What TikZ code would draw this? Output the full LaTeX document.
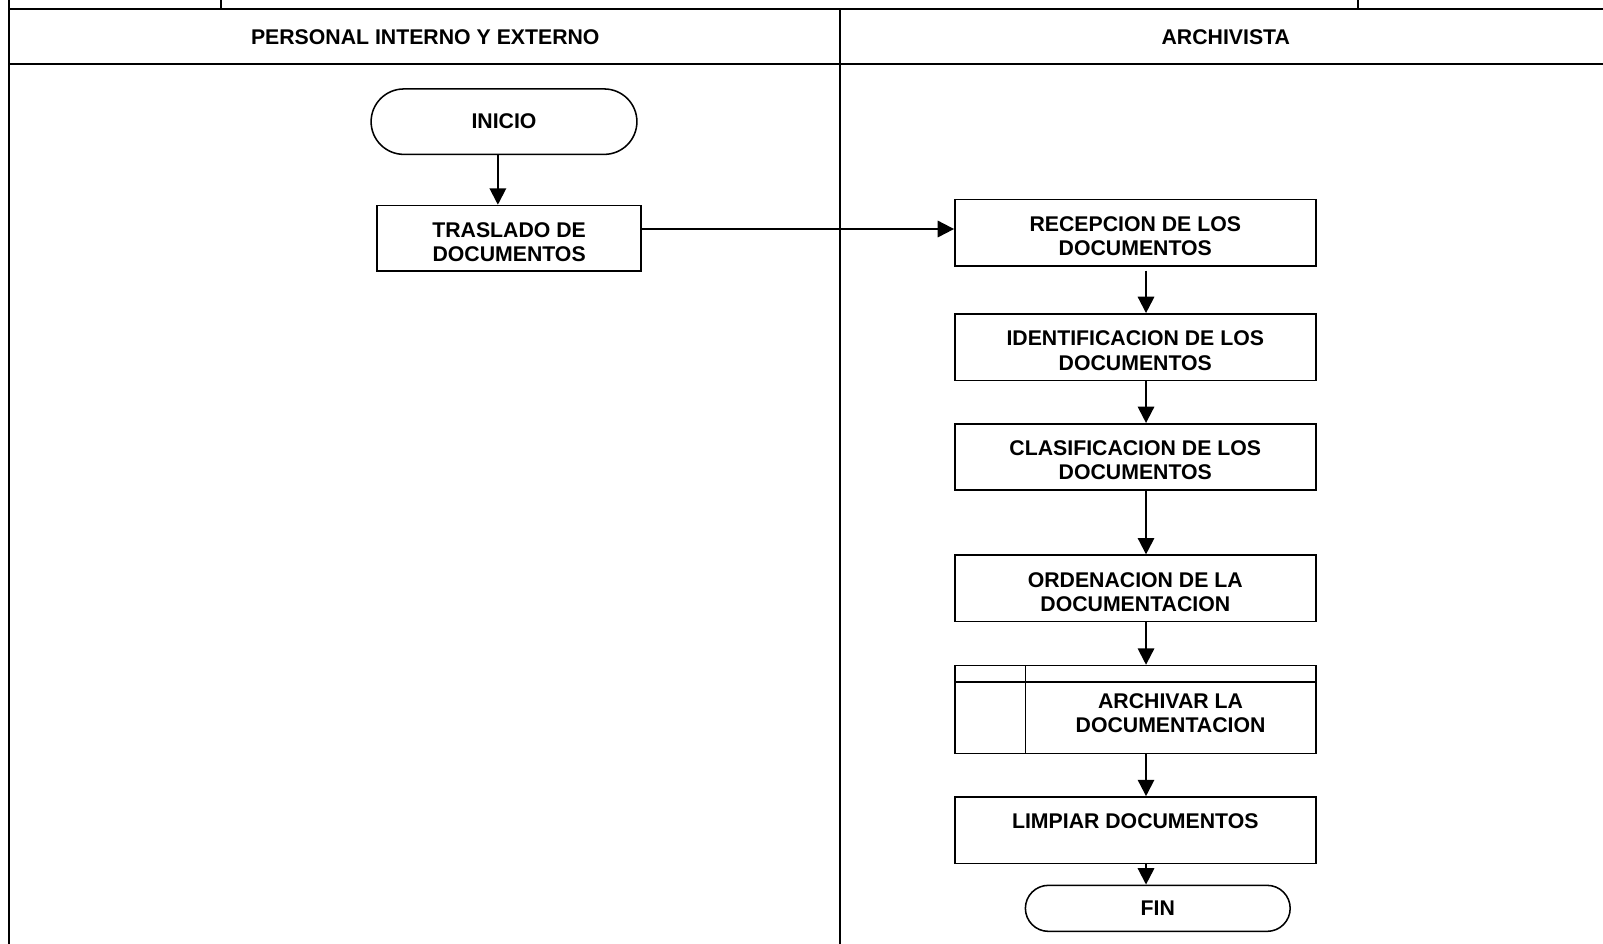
\documentclass[tikz,border=0pt]{standalone}
\usepackage{fontspec}
\setmainfont{Liberation Sans}
\usetikzlibrary{arrows.meta,shapes.misc,calc}
\begin{document}
\begin{tikzpicture}[x=0.5pt,y=-0.5pt,
  frame/.style={line width=1pt,black},
  txt/.style={font=\fontsize{10.4}{11.75}\selectfont\bfseries,align=center,inner sep=0pt},
  box/.style={draw,line width=0.75pt,rectangle,minimum width=176.5pt,minimum height=32.5pt,inner sep=0pt},
  boxt/.style={box,label={[txt,yshift=-1.75pt]center:{#1}}},
  term/.style={draw,line width=0.75pt,rounded rectangle,inner sep=0pt,align=center,font=\fontsize{10.4}{12}\selectfont\bfseries},
  arr/.style={line width=1pt,-{Triangle[width=8pt,length=8pt]}}]
\useasboundingbox (0,0) rectangle (1568,923);
% frame
\draw[frame] (9,9) -- (1568,9);
\draw[frame] (9,63) -- (1568,63);
\draw[frame] (9,0) -- (9,923);
\draw[frame] (822,9) -- (822,923);
\draw[frame] (216,0) -- (216,9);
\draw[frame] (1328,0) -- (1328,9);
\node[txt] (h1) at (416,36) {PERSONAL INTERNO Y EXTERNO};
\node[txt] (h2) at (1199,36) {ARCHIVISTA};
% nodes
\node[term,minimum width=130pt,minimum height=32pt] (ini) at (493,119) {INICIO};
\node[boxt={TRASLADO DE\\DOCUMENTOS},minimum width=129pt,minimum height=32pt] (tras) at (498,233) {};
\node[boxt={RECEPCION DE LOS\\DOCUMENTOS}] (rec) at (1110.5,227.5) {};
\node[boxt={IDENTIFICACION DE LOS\\DOCUMENTOS}] (idn) at (1110.5,339.5) {};
\node[boxt={CLASIFICACION DE LOS\\DOCUMENTOS}] (cla) at (1110.5,447) {};
\node[boxt={ORDENACION DE LA\\DOCUMENTACION}] (ord) at (1110.5,575.5) {};
\node[box,minimum height=43pt] (arc) at (1110.5,694) {};
\draw[line width=0.75pt] (arc.north west |- 0,667) -- (arc.north east |- 0,667);
\draw[line width=0.75pt] (1003,651) -- (1003,737);
\node[txt] (arct) at (1145,698) {ARCHIVAR LA\\DOCUMENTACION};
\node[box] (lim) at (1110.5,812) {};
\node[txt] (limt) at (1110.5,803) {LIMPIAR DOCUMENTOS};
\node[term,minimum width=129.5pt,minimum height=22.5pt] (fin) at (1132.5,888.5) {FIN};
% connectors
\draw[arr] ([xshift=-3pt]ini.south) -- ([xshift=-3pt]ini.south |- tras.north);
\draw[arr] ([yshift=4.5pt]tras.east) -- ([yshift=4.5pt]tras.east -| rec.west);
\draw[arr] ([xshift=5.25pt,yshift=-2pt]rec.south) -- ([xshift=5.25pt]idn.north);
\draw[arr] ([xshift=5.25pt]idn.south) -- ([xshift=5.25pt]cla.north);
\draw[arr] ([xshift=5.25pt]cla.south) -- ([xshift=5.25pt]ord.north);
\draw[arr] ([xshift=5.25pt]ord.south) -- ([xshift=5.25pt]arc.north);
\draw[arr] ([xshift=5.25pt]arc.south) -- ([xshift=5.25pt]lim.north);
\draw[arr] ([xshift=5.25pt]lim.south) -- ([xshift=5.25pt]lim.south |- fin.north);
\end{tikzpicture}
\end{document}
